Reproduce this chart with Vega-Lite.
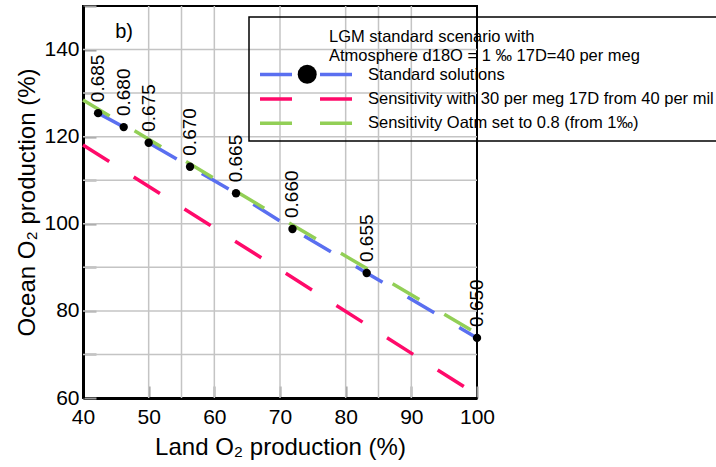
{
  "$schema": "https://vega.github.io/schema/vega-lite/v6.json",
  "width": 394,
  "height": 392,
  "autosize": {"type": "none"},
  "padding": {"left": 83, "top": 6, "right": 239, "bottom": 69},
  "config": {
    "font": "Liberation Sans",
    "view": {"stroke": "black", "strokeWidth": 2},
    "axis": {"labelFont": "Liberation Sans", "titleFont": "Liberation Sans"}
  },
  "datasets": {
    "gridx": [{"v": 50}, {"v": 55}, {"v": 60}, {"v": 70}, {"v": 80}, {"v": 85}, {"v": 90}],
    "gridy": [{"v": 70}, {"v": 80}, {"v": 90}, {"v": 100}, {"v": 110}, {"v": 120}, {"v": 130}, {"v": 140}],
    "lines": [
      {"series": "Standard solutions", "x": 42.3, "y": 125.4},
      {"series": "Standard solutions", "x": 46.2, "y": 122.2},
      {"series": "Standard solutions", "x": 50.0, "y": 118.6},
      {"series": "Standard solutions", "x": 56.3, "y": 113.1},
      {"series": "Standard solutions", "x": 63.3, "y": 107.0},
      {"series": "Standard solutions", "x": 71.9, "y": 98.8},
      {"series": "Standard solutions", "x": 83.2, "y": 88.7},
      {"series": "Standard solutions", "x": 100.0, "y": 73.8},
      {"series": "Sensitivity with 30 per meg 17D from 40 per mil", "x": 40.0, "y": 118.1},
      {"series": "Sensitivity with 30 per meg 17D from 40 per mil", "x": 59.3, "y": 99.7},
      {"series": "Sensitivity with 30 per meg 17D from 40 per mil", "x": 70.5, "y": 89.0},
      {"series": "Sensitivity with 30 per meg 17D from 40 per mil", "x": 100.0, "y": 60.7},
      {"series": "Sensitivity Oatm set to 0.8 (from 1‰)", "x": 40.0, "y": 128.4},
      {"series": "Sensitivity Oatm set to 0.8 (from 1‰)", "x": 71.25, "y": 100.3},
      {"series": "Sensitivity Oatm set to 0.8 (from 1‰)", "x": 82.9, "y": 90.0},
      {"series": "Sensitivity Oatm set to 0.8 (from 1‰)", "x": 100.0, "y": 74.8}
    ],
    "pts": [
      {"kind": "Standard solutions", "x": 42.3, "y": 125.4, "label": "0.685"},
      {"kind": "Standard solutions", "x": 46.2, "y": 122.2, "label": "0.680"},
      {"kind": "Standard solutions", "x": 50.0, "y": 118.6, "label": "0.675"},
      {"kind": "Standard solutions", "x": 56.3, "y": 113.1, "label": "0.670"},
      {"kind": "Standard solutions", "x": 63.3, "y": 107.0, "label": "0.665"},
      {"kind": "Standard solutions", "x": 71.9, "y": 98.8, "label": "0.660"},
      {"kind": "Standard solutions", "x": 83.2, "y": 88.7, "label": "0.655"},
      {"kind": "Standard solutions", "x": 100.0, "y": 73.8, "label": "0.650"}
    ],
    "ann": [
      {"x": 44.9, "y": 142.7, "text": "b)"}
    ]
  },
  "layer": [
    {
      "data": {"name": "gridx"},
      "mark": {"type": "rule", "color": "#c4c4c4", "strokeWidth": 1.5},
      "encoding": {"x": {"field": "v", "type": "quantitative"}}
    },
    {
      "data": {"name": "gridy"},
      "mark": {"type": "rule", "color": "#c4c4c4", "strokeWidth": 1.5},
      "encoding": {"y": {"field": "v", "type": "quantitative"}}
    },
    {
      "data": {"name": "lines"},
      "mark": {"type": "line", "strokeDash": [31, 29], "strokeWidth": 3.5},
      "encoding": {
        "x": {
          "field": "x", "type": "quantitative",
          "scale": {"domain": [40, 100], "nice": false, "zero": false},
          "axis": {
            "values": [40, 45, 50, 55, 60, 65, 70, 75, 80, 85, 90, 95, 100],
            "labelExpr": "datum.value % 10 === 0 ? datum.label : ''",
            "labelFlush": false, "labelOverlap": false,
            "grid": false,
            "tickColor": {"condition": {"test": "datum.value % 10 === 0", "value": "#999999"}, "value": "black"},
            "tickSize": {"condition": {"test": "datum.value % 10 === 0", "value": -12}, "value": -6},
            "tickWidth": 2,
            "domainColor": "black", "domainWidth": 3,
            "labelFontSize": 21, "labelColor": "black", "labelPadding": 20,
            "title": "Land O₂ production (%)", "titleFontSize": 24, "titleFontWeight": "normal", "titleColor": "black", "titlePadding": 8
          }
        },
        "y": {
          "field": "y", "type": "quantitative",
          "scale": {"domain": [60, 150], "nice": false, "zero": false},
          "axis": {
            "values": [60, 65, 70, 75, 80, 85, 90, 95, 100, 105, 110, 115, 120, 125, 130, 135, 140, 145, 150],
            "labelExpr": "datum.value % 20 === 0 && datum.value < 150 ? datum.label : ''",
            "labelFlush": false, "labelOverlap": false,
            "grid": false,
            "tickColor": {"condition": {"test": "datum.value % 10 === 0", "value": "#999999"}, "value": "black"},
            "tickSize": {"condition": {"test": "datum.value % 10 === 0", "value": -13}, "value": -7},
            "tickWidth": 2,
            "domainColor": "black", "domainWidth": 3,
            "labelFontSize": 21, "labelColor": "black", "labelPadding": 17,
            "title": "Ocean O₂ production (%)", "titleFontSize": 24, "titleFontWeight": "normal", "titleColor": "black", "titlePadding": 4
          }
        },
        "color": {
          "field": "series", "type": "nominal",
          "scale": {
            "domain": ["Standard solutions", "Sensitivity with 30 per meg 17D from 40 per mil", "Sensitivity Oatm set to 0.8 (from 1‰)"],
            "range": ["#5a6ff0", "#ff0a6a", "#92cf56"]
          },
          "legend": {
            "orient": "none", "legendX": 166, "legendY": 11,
            "title": ["LGM standard scenario with", "Atmosphere d18O = 1 ‰ 17D=40 per meg"],
            "titleFontSize": 16.5, "titleFontWeight": "normal", "titleColor": "black", "titleLineHeight": 19, "titlePadding": 5, "titleLimit": 600,
            "labelFontSize": 16.5, "labelColor": "black", "labelOffset": 14, "labelLimit": 600,
            "symbolType": "stroke", "symbolSize": 8464, "symbolStrokeWidth": 3.5, "symbolDash": [32, 28],
            "clipHeight": 16, "rowPadding": 7.4,
            "padding": 9, "strokeColor": "black",
            "encoding": {"title": {"dx": {"value": 71}, "dy": {"value": 3}}, "legend": {"strokeWidth": {"value": 1.5}}}
          }
        }
      }
    },
    {
      "data": {"name": "pts"},
      "mark": {"type": "point", "filled": true, "color": "black", "size": 70, "opacity": 1},
      "encoding": {
        "x": {"field": "x", "type": "quantitative"},
        "y": {"field": "y", "type": "quantitative"},
        "shape": {
          "field": "kind", "type": "nominal",
          "scale": {"range": ["circle"]},
          "legend": {
            "orient": "none", "legendX": 214.7, "legendY": 58.8,
            "title": null, "labelExpr": "''",
            "symbolSize": 361, "symbolFillColor": "black", "symbolStrokeWidth": 0,
            "padding": 0, "labelOffset": 0
          }
        }
      }
    },
    {
      "data": {"name": "pts"},
      "mark": {"type": "text", "angle": 270, "align": "left", "baseline": "middle", "dx": 11, "fontSize": 19, "color": "black"},
      "encoding": {
        "x": {"field": "x", "type": "quantitative"},
        "y": {"field": "y", "type": "quantitative"},
        "text": {"field": "label", "type": "nominal"}
      }
    },
    {
      "data": {"name": "ann"},
      "mark": {"type": "text", "align": "left", "baseline": "alphabetic", "fontSize": 20, "color": "black"},
      "encoding": {
        "x": {"field": "x", "type": "quantitative"},
        "y": {"field": "y", "type": "quantitative"},
        "text": {"field": "text", "type": "nominal"}
      }
    }
  ]
}
